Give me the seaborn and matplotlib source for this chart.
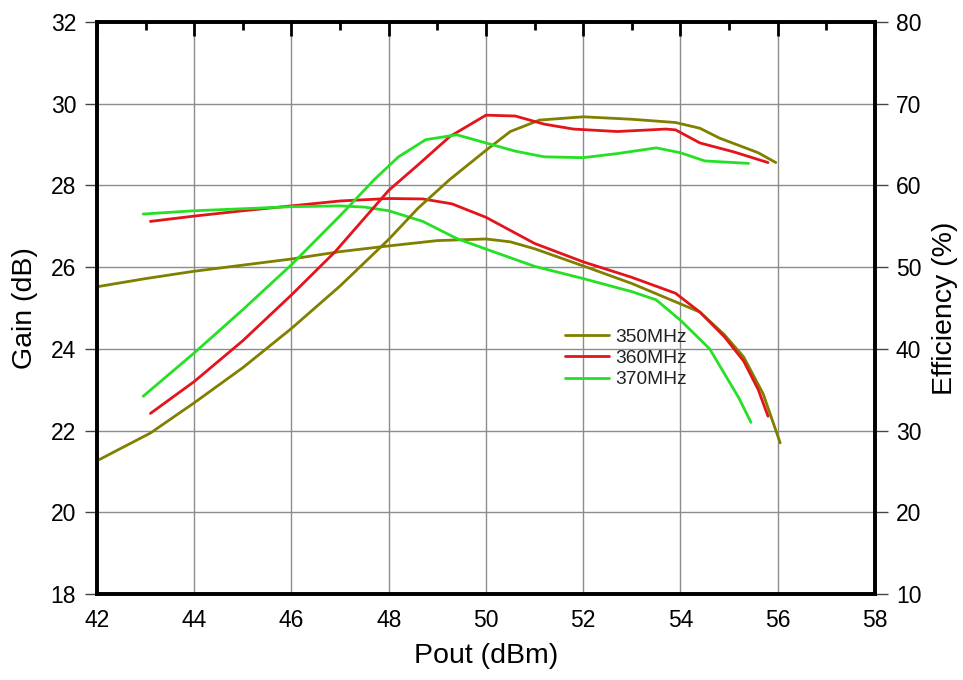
import numpy as np
import pandas as pd
import seaborn as sns
from matplotlib import pyplot as plt
from matplotlib.ticker import MultipleLocator

# values
freqs = ['350MHz', '360MHz', '370MHz']
colors = ['#808000', '#E3141C', '#25E025']

gain_350_x = [42.0, 43.0, 44.0, 45.0, 46.0, 47.0, 48.0, 49.0, 50.0, 50.5, 51.0, 52.0, 53.0, 53.9, 54.4, 54.9, 55.3, 55.7, 56.05]
gain_350 = [25.52, 25.72, 25.9, 26.05, 26.2, 26.38, 26.52, 26.65, 26.69, 26.62, 26.45, 26.03, 25.6, 25.15, 24.9, 24.35, 23.8, 22.9, 21.7]
gain_360_x = [43.1, 44.0, 45.0, 46.0, 47.0, 48.0, 48.7, 49.3, 50.0, 51.0, 52.0, 53.0, 53.9, 54.4, 54.9, 55.3, 55.6, 55.8]
gain_360 = [27.12, 27.25, 27.38, 27.5, 27.62, 27.68, 27.67, 27.55, 27.22, 26.58, 26.13, 25.75, 25.36, 24.9, 24.3, 23.7, 23.0, 22.35]
gain_370_x = [42.95, 44.0, 45.0, 46.0, 47.0, 47.5, 48.0, 48.7, 49.4, 50.1, 51.0, 52.0, 53.0, 53.5, 54.0, 54.6, 55.2, 55.45]
gain_370 = [27.3, 27.38, 27.43, 27.48, 27.5, 27.47, 27.38, 27.12, 26.7, 26.4, 26.02, 25.72, 25.4, 25.2, 24.7, 24.0, 22.8, 22.2]

eff_350_x = [42.0, 43.1, 44.0, 45.0, 46.0, 47.0, 48.0, 48.6, 49.25, 50.0, 50.5, 51.1, 52.0, 53.0, 53.9, 54.4, 54.8, 55.2, 55.6, 55.96]
eff_350 = [26.3, 29.7, 33.4, 37.7, 42.5, 47.7, 53.4, 57.2, 60.7, 64.3, 66.6, 68.0, 68.4, 68.1, 67.7, 67.0, 65.8, 64.9, 64.0, 62.8]
eff_360_x = [43.1, 44.0, 45.0, 46.0, 46.9, 48.0, 48.6, 49.26, 50.0, 50.6, 51.2, 51.8, 52.7, 53.7, 53.9, 54.4, 55.1, 55.8]
eff_360 = [32.1, 36.0, 41.0, 46.6, 51.9, 59.4, 62.5, 66.0, 68.6, 68.5, 67.5, 66.9, 66.6, 66.9, 66.8, 65.2, 64.1, 62.8]
eff_370_x = [42.95, 44.0, 45.0, 46.0, 47.0, 47.7, 48.2, 48.76, 49.4, 50.0, 50.6, 51.2, 52.0, 52.7, 53.5, 54.0, 54.5, 55.4]
eff_370 = [34.2, 39.5, 44.8, 50.3, 56.3, 60.7, 63.5, 65.6, 66.2, 65.2, 64.2, 63.5, 63.4, 63.9, 64.6, 64.0, 63.0, 62.7]


def long_df(xs, ys, name):
    parts = []
    for f, x, y in zip(freqs, xs, ys):
        parts.append(pd.DataFrame({'Pout': x, name: y, 'Frequency': f}))
    return pd.concat(parts, ignore_index=True)


gain_df = long_df([gain_350_x, gain_360_x, gain_370_x], [gain_350, gain_360, gain_370], 'Gain')
eff_df = long_df([eff_350_x, eff_360_x, eff_370_x], [eff_350, eff_360, eff_370], 'Efficiency')

sns.set_style('white')
plt.rcParams['font.family'] = ['Liberation Sans', 'DejaVu Sans']
plt.rcParams['text.color'] = 'black'
plt.rcParams['axes.labelcolor'] = 'black'
plt.rcParams['xtick.color'] = 'black'
plt.rcParams['ytick.color'] = 'black'

fig = plt.figure(figsize=(9.63, 6.8), dpi=100)
ax = fig.add_axes([0.1007, 0.1265, 0.8079, 0.8411])
ax2 = ax.twinx()

palette = dict(zip(freqs, colors))
sns.lineplot(data=gain_df, x='Pout', y='Gain', hue='Frequency', hue_order=freqs,
             palette=palette, estimator=None, sort=False, linewidth=2, ax=ax)
sns.lineplot(data=eff_df, x='Pout', y='Efficiency', hue='Frequency', hue_order=freqs,
             palette=palette, estimator=None, sort=False, linewidth=2, ax=ax2, legend=False)

ax.set_xlim(42, 58)
ax.set_ylim(18, 32)
ax2.set_ylim(10, 80)
ax.xaxis.set_major_locator(MultipleLocator(2))
ax.xaxis.set_minor_locator(MultipleLocator(1))
ax.yaxis.set_major_locator(MultipleLocator(2))
ax2.yaxis.set_major_locator(MultipleLocator(10))

ax.grid(True, which='major', color='#8c8c8c', linewidth=1)
ax.set_axisbelow(True)

ax.tick_params(axis='x', which='both', direction='in', top=True, bottom=False,
               labelbottom=True, labelsize=16.5, pad=11, width=2, color='black')
ax.tick_params(axis='x', which='major', length=10)
ax.tick_params(axis='x', which='minor', length=6)
ax.tick_params(axis='y', direction='out', left=True, length=9, width=1,
               labelsize=16.5, pad=6, color='#444444')
ax2.tick_params(axis='y', direction='out', right=True, length=9, width=1,
                labelsize=16.5, pad=6, color='#444444')

for a in (ax, ax2):
    for s in a.spines.values():
        s.set_linewidth(2.6)
        s.set_color('black')

ax.set_xlabel('Pout (dBm)', fontsize=20.5, labelpad=8)
ax.set_ylabel('Gain (dB)', fontsize=20.5, labelpad=9)
ax2.set_ylabel('Efficiency (%)', fontsize=20.5, labelpad=8)

handles, labels = ax.get_legend_handles_labels()
leg = ax.legend(handles, labels, loc='upper left', bbox_to_anchor=(0.6015, 0.4645),
                frameon=False, fontsize=13.8, handlelength=2.3, handletextpad=0.3,
                labelspacing=0.2, borderpad=0, borderaxespad=0)
for t in leg.get_texts():
    t.set_color('#222222')

fig.savefig('out.png', dpi=100)
